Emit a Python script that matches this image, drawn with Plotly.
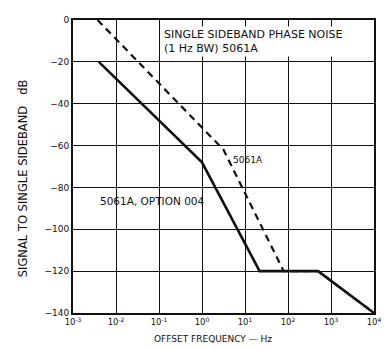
import plotly.graph_objects as go

# 5061A standard tube (dashed)
std_freq = [10 ** -2.43, 10 ** 0.5, 10 ** 1.9, 10 ** 2.7, 1e4]
std_db = [0, -62, -120, -120, -140]

# 5061A option 004 (solid)
opt_freq = [10 ** -2.4, 10 ** 0.0, 10 ** 1.34, 10 ** 2.7, 1e4]
opt_db = [-20, -68, -120, -120, -140]

x_tickvals = [1e-3, 1e-2, 1e-1, 1, 10, 100, 1e3, 1e4]
x_ticktext = ["10<sup>-3</sup>", "10<sup>-2</sup>", "10<sup>-1</sup>", "10<sup>0</sup>",
              "10<sup>1</sup>", "10<sup>2</sup>", "10<sup>3</sup>", "10<sup>4</sup>"]
y_tickvals = [0, -20, -40, -60, -80, -100, -120, -140]

ink = "#111111"
font = "DejaVu Sans, sans-serif"

fig = go.Figure()
fig.add_trace(go.Scatter(x=std_freq, y=std_db, mode="lines",
                         line=dict(color=ink, width=2.2, dash="7px,5px")))
fig.add_trace(go.Scatter(x=opt_freq, y=opt_db, mode="lines",
                         line=dict(color=ink, width=2.6)))

fig.add_annotation(x=-0.92, y=-3, xref="x", yref="y", xanchor="left", yanchor="top",
                   text="SINGLE SIDEBAND PHASE NOISE<br>(1 Hz BW) 5061A", align="left",
                   showarrow=False, bgcolor="white", borderpad=1,
                   font=dict(size=11, color=ink, family=font))
fig.add_annotation(x=1.08, y=-67, xref="x", yref="y", text="5061A", showarrow=False,
                   font=dict(size=9, color=ink, family=font))
fig.add_annotation(x=-2.42, y=-86.5, xref="x", yref="y", xanchor="left",
                   text="5061A, OPTION 004", showarrow=False,
                   font=dict(size=10.5, color=ink, family=font))

# axis titles placed as annotations to match the scan
fig.add_annotation(x=-0.166, y=0.46, xref="paper", yref="paper", textangle=-90,
                   xanchor="center", yanchor="middle",
                   text="SIGNAL TO SINGLE SIDEBAND\u00a0\u00a0\u00a0dB",
                   showarrow=False, font=dict(size=11.5, color=ink, family=font))
fig.add_annotation(x=0.466, y=-0.088, xref="paper", yref="paper",
                   xanchor="center", yanchor="middle",
                   text="OFFSET FREQUENCY \u2014 Hz", showarrow=False,
                   font=dict(size=9, color=ink, family=font))

fig.update_xaxes(type="log", range=[-3, 4], tickvals=x_tickvals, ticktext=x_ticktext,
                 showgrid=True, gridcolor=ink, gridwidth=1,
                 showline=True, linecolor=ink, linewidth=2, mirror=True,
                 ticks="", tickfont=dict(size=8.5, color=ink, family=font),
                 zeroline=False)
fig.update_yaxes(range=[-140, 0], tickvals=y_tickvals,
                 showgrid=True, gridcolor=ink, gridwidth=1,
                 showline=True, linecolor=ink, linewidth=2, mirror=True,
                 ticks="", tickfont=dict(size=9, color=ink, family=font),
                 zeroline=False)

# page body adds an 8px margin, so the figure is sized to land on the reference frame
fig.update_layout(width=381, height=342, showlegend=False,
                  margin=dict(l=65, r=9, t=7, b=37),
                  paper_bgcolor="white", plot_bgcolor="white")

fig.write_html("out.html")
